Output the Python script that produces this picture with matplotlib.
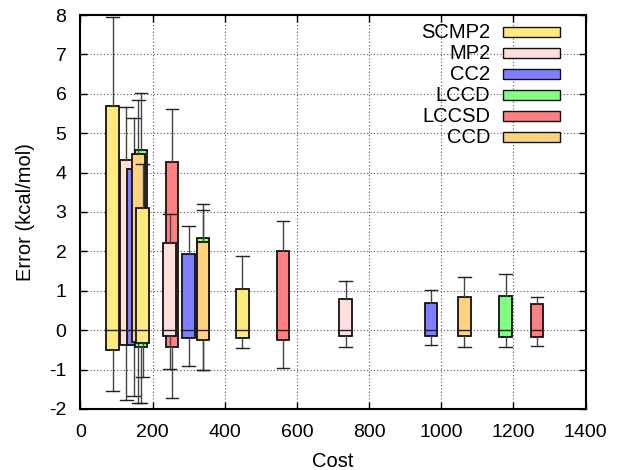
import matplotlib.pyplot as plt
from matplotlib.patches import Rectangle

plt.rcParams['font.family'] = ['Liberation Sans', 'DejaVu Sans']
plt.rcParams['axes.unicode_minus'] = False

# metodos y colores
methods = ['SCMP2', 'MP2', 'CC2', 'LCCD', 'LCCSD', 'CCD']
colors = ['#FFEA80', '#FFDEDE', '#8080FF', '#80FF80', '#FF8080', '#FFD280']

# coste de cada caja (tres bases por metodo)
cost = {
    'SCMP2': [89.5, 172.7, 448.4],
    'MP2': [127.5, 247.5, 734.8],
    'CC2': [147.7, 300.0, 971.5],
    'LCCD': [168.0, 339.5, 1178.2],
    'LCCSD': [253.9, 561.5, 1265.2],
    'CCD': [160.8, 339.5, 1064.3],
}
# cuartiles y bigotes (kcal/mol)
q3 = {
    'SCMP2': [5.69, 3.10, 1.05],
    'MP2': [4.31, 2.20, 0.80],
    'CC2': [4.09, 1.93, 0.70],
    'LCCD': [4.58, 2.33, 0.86],
    'LCCSD': [4.27, 2.00, 0.66],
    'CCD': [4.48, 2.23, 0.85],
}
q1 = {
    'SCMP2': [-0.51, -0.33, -0.20],
    'MP2': [-0.38, -0.16, -0.15],
    'CC2': [-0.37, -0.19, -0.15],
    'LCCD': [-0.42, -0.20, -0.17],
    'LCCSD': [-0.42, -0.25, -0.18],
    'CCD': [-0.31, -0.25, -0.15],
}
median = {
    'SCMP2': [0.0, 0.0, 0.0],
    'MP2': [0.0, 0.0, 0.0],
    'CC2': [0.0, 0.0, 0.0],
    'LCCD': [0.0, 0.0, 0.0],
    'LCCSD': [0.0, 0.0, 0.0],
    'CCD': [0.0, 0.0, 0.0],
}
whis_hi = {
    'SCMP2': [7.95, 4.21, 1.89],
    'MP2': [5.67, 2.96, 1.26],
    'CC2': [5.39, 2.64, 1.03],
    'LCCD': [6.02, 3.21, 1.43],
    'LCCSD': [5.61, 2.77, 0.83],
    'CCD': [5.85, 3.06, 1.34],
}
whis_lo = {
    'SCMP2': [-1.54, -1.20, -0.46],
    'MP2': [-1.78, -0.99, -0.42],
    'CC2': [-1.67, -0.92, -0.39],
    'LCCD': [-1.86, -1.02, -0.43],
    'LCCSD': [-1.72, -0.95, -0.40],
    'CCD': [-1.84, -1.02, -0.43],
}

fs = 14.5

fig = plt.figure(figsize=(6.23, 4.70), dpi=100)
ax = fig.add_axes([0.129, 0.130, 0.811, 0.838])

box_w = 35
z = 3
for b in range(3):
    for m, c in zip(methods, colors):
        st = [{'med': median[m][b], 'q1': q1[m][b], 'q3': q3[m][b],
               'whislo': whis_lo[m][b], 'whishi': whis_hi[m][b]}]
        ax.bxp(st, positions=[cost[m][b]], widths=box_w, capwidths=box_w,
               showfliers=False, patch_artist=True, manage_ticks=False,
               boxprops=dict(facecolor=c, edgecolor='#111111', linewidth=1.3),
               whiskerprops=dict(color='#444444', linewidth=1.0),
               capprops=dict(color='#222222', linewidth=1.0),
               medianprops=dict(color='#222222', linewidth=1.0),
               zorder=z)
        z += 0.1

ax.set_xlim(0, 1400)
ax.set_ylim(-2, 8)
ax.set_xticks(range(0, 1401, 200))
ax.set_yticks(range(-2, 9))
ax.tick_params(direction='in', top=True, right=True, length=5, width=1,
               labelsize=14)
ax.tick_params(axis='x', pad=11)
ax.tick_params(axis='y', pad=10)
ax.grid(True, color='#555555', linestyle=(0, (1, 2)), linewidth=0.8)
ax.set_axisbelow(True)
for s in ax.spines.values():
    s.set_linewidth(1.5)

ax.set_xlabel('Cost', fontsize=fs, labelpad=8)
ax.set_ylabel('Error (kcal/mol)', fontsize=fs, labelpad=10)

# leyenda a mano, estilo gnuplot (texto a la izquierda, caja a la derecha)
for i, (m, c) in enumerate(zip(methods, colors)):
    yb = 0.9409 - 0.0533 * i
    ax.text(0.811, yb, m, transform=ax.transAxes, ha='right', va='baseline',
            fontsize=fs, zorder=10)
    ax.add_patch(Rectangle((0.8366, yb + 0.0038), 0.1129, 0.0254,
                           transform=ax.transAxes, facecolor=c,
                           edgecolor='#111111', linewidth=1.0, zorder=10))

plt.savefig('out.png', dpi=100)
